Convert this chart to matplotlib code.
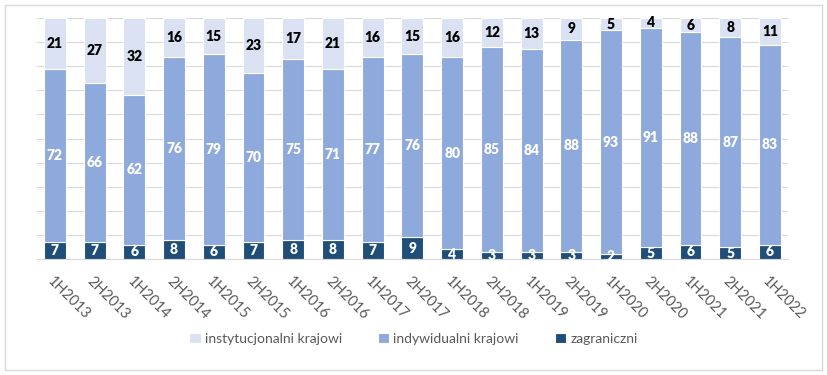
import matplotlib
matplotlib.use("Agg")
import matplotlib.pyplot as plt
import numpy as np

categories = ["1H2013", "2H2013", "1H2014", "2H2014", "1H2015", "2H2015", "1H2016", "2H2016",
              "1H2017", "2H2017", "1H2018", "2H2018", "1H2019", "2H2019", "1H2020", "2H2020",
              "1H2021", "2H2021", "1H2022"]
zagraniczni = [7, 7, 6, 8, 6, 7, 8, 8, 7, 9, 4, 3, 3, 3, 2, 5, 6, 5, 6]
indywidualni = [72, 66, 62, 76, 79, 70, 75, 71, 77, 76, 80, 85, 84, 88, 93, 91, 88, 87, 83]
instytucjonalni = [21, 27, 32, 16, 15, 23, 17, 21, 16, 15, 16, 12, 13, 9, 5, 4, 6, 8, 11]

plt.rcParams['font.family'] = ['Lato', 'DejaVu Sans']

fig = plt.figure(figsize=(8.27, 3.75), dpi=100)
ax = fig.add_axes([0.0447, 0.309, 0.908, 0.643])

x = np.arange(len(categories))
w = 0.55
c_z = "#1F4E79"
c_i = "#8EA9DB"
c_s = "#D9E1F2"

z = np.array(zagraniczni)
i_ = np.array(indywidualni)
s = np.array(instytucjonalni)

b1 = ax.bar(x, z, w, color=c_z, edgecolor="white", linewidth=0.8, label="zagraniczni", zorder=3)
b2 = ax.bar(x, i_, w, bottom=z, color=c_i, edgecolor="white", linewidth=0.8, label="indywidualni krajowi", zorder=3)
b3 = ax.bar(x, s, w, bottom=z + i_, color=c_s, edgecolor="white", linewidth=0.8, label="instytucjonalni krajowi", zorder=3)

lab_kw = dict(ha="center", va="center", fontsize=10, fontweight="heavy", zorder=4)
for xi, zv, iv, sv in zip(x, z, i_, s):
    ax.text(xi, zv / 2, str(zv), color="white", **lab_kw)
    ax.text(xi, zv + iv / 2, str(iv), color="white", **lab_kw)
    ax.text(xi, zv + iv + sv / 2, str(sv), color="black", **lab_kw)

ax.set_xlim(-0.45, len(categories) - 0.55)
ax.set_ylim(0, 100)
ax.set_yticks(np.arange(0, 101, 10))
ax.set_yticklabels([])
ax.tick_params(axis="y", length=0)
ax.grid(axis="y", color="#D9D9D9", linewidth=0.8, zorder=0)
for sp in ["top", "right", "left"]:
    ax.spines[sp].set_visible(False)
ax.spines["bottom"].set_color("#D9D9D9")
ax.set_xticks(x)
ax.set_xticklabels(categories, rotation=-45, ha="left", va="top", rotation_mode="anchor",
                   color="#595959", fontsize=10.5)
ax.tick_params(axis="x", length=0, pad=11)

handles = [b3, b2, b1]
fig.legend(handles, [h.get_label() for h in handles], loc="center", bbox_to_anchor=(0.5, 0.097),
           ncol=3, frameon=False, fontsize=10, handlelength=0.8, handleheight=0.8,
           columnspacing=2.6, handletextpad=0.3, labelcolor="#595959")

fig.patches.append(matplotlib.patches.Rectangle((0.006, 0.013), 0.988, 0.974, transform=fig.transFigure,
                                                fill=False, edgecolor="#D9D9D9", linewidth=1))

fig.savefig("out.png", dpi=100)
